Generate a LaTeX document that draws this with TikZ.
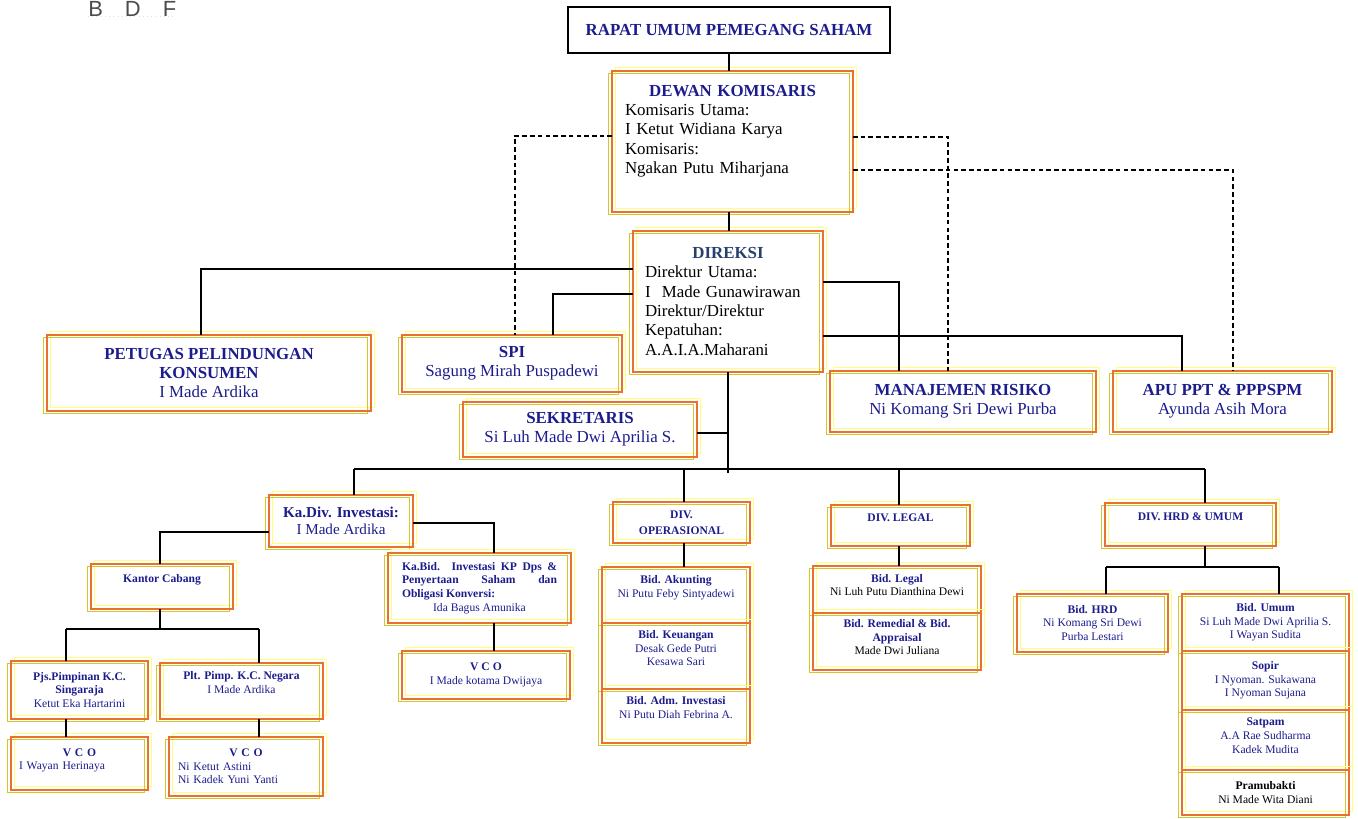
\documentclass[tikz,border=0pt]{standalone}
\usepackage{fontspec}
\setmainfont{Liberation Serif}
\newfontfamily\marksans{Liberation Sans}
\definecolor{orgnavy}{RGB}{28,28,140}
\definecolor{orgslate}{RGB}{40,64,110}
\definecolor{boxorange}{RGB}{232,112,48}
\definecolor{boxyellow}{RGB}{212,200,40}
\definecolor{boxlight}{RGB}{255,255,120}
\newcommand{\liftrule}[1]{\rule[-#1]{0pt}{0pt}}

\tikzset{
    unitbox/.style={draw=boxorange, line width=0.7pt, text=orgnavy, align=center, inner sep=2pt, outer sep=0pt,
        preaction={draw=boxlight, line width=0.9pt, transform canvas={xshift=2pt, yshift=2pt}},
        preaction={draw=boxyellow, line width=0.9pt, transform canvas={xshift=-2pt, yshift=-1.5pt}}},
    plainbox/.style={draw, line width=0.7pt, text=orgnavy, align=center, outer sep=0pt},
    sz/.style 2 args={minimum width=#1*0.02cm, minimum height=#2*0.02cm},
    lvlA/.style={font=\fontsize{9.6}{11}\selectfont},
    lvlB/.style={font=\fontsize{8.6}{9.8}\selectfont},
    lvlC/.style={font=\fontsize{6.6}{7.8}\selectfont},
    lift/.style={execute at end node=\liftrule{#1}},
    link/.style={line width=0.7pt},
    dotlink/.style={line width=0.7pt, dash pattern=on 2.6pt off 1.8pt}
}

\begin{document}
\begin{tikzpicture}[x=0.02cm, y=-0.02cm]
    \useasboundingbox (0,0) rectangle (1358,818);
    \node[anchor=base west, inner sep=0pt, text=black!70, font=\marksans\fontsize{12.5}{14}\selectfont] (mark) at (88,16) {B\quad D\quad F};
    \draw[black!12, dotted] (mark.south west) -- (mark.south east);

    % Top management
    \node[plainbox, lvlA, sz={322}{46}] (rapat) at (729,30) {\textbf{RAPAT UMUM PEMEGANG SAHAM}};
    \node[unitbox, lvlA, sz={241}{141}, text=black, text width=4.3cm, align=left, lift=14pt] (dewan) at (732.5,141.5)
        {\makebox[\hsize]{\textcolor{orgnavy}{\textbf{DEWAN KOMISARIS}}}\\Komisaris Utama:\\I Ketut Widiana Karya\\Komisaris:\\Ngakan Putu Miharjana};
    \node[unitbox, lvlA, sz={190}{141}, text=black, text width=3.32cm, align=left] (direksi) at (728,301.5)
        {\makebox[\hsize]{\textcolor{orgslate}{\textbf{DIREKSI}}}\\Direktur Utama:\\I\ \ Made Gunawirawan\\Direktur/Direktur\\Kepatuhan:\\A.A.I.A.Maharani};

    % Units under the board
    \node[unitbox, lvlA, sz={324}{76}] (petugas) at (209,373) {\textbf{PETUGAS PELINDUNGAN}\\\textbf{KONSUMEN}\\I Made Ardika};
    \node[unitbox, lvlA, sz={220}{57}] (spi) at (512,363.5) {\textbf{SPI}\\Sagung Mirah Puspadewi};
    \node[unitbox, lvlA, sz={234}{55}] (sekretaris) at (580,429.5) {\textbf{SEKRETARIS}\\Si Luh Made Dwi Aprilia S.};
    \node[unitbox, lvlA, sz={266}{61}] (risiko) at (963,401.5) {\textbf{MANAJEMEN RISIKO}\\Ni Komang Sri Dewi Purba};
    \node[unitbox, lvlA, sz={219}{61}] (apu) at (1222.5,401.5) {\textbf{APU PPT \& PPPSPM}\\Ayunda Asih Mora};

    % Divisions
    \node[unitbox, lvlB, sz={144}{52}] (kadiv) at (341,521) {\textbf{Ka.Div. Investasi:}\\I Made Ardika};
    \node[unitbox, lvlC, sz={137}{41}, font=\fontsize{6.6}{9}\selectfont] (divops) at (681.5,522.5) {\textbf{DIV.}\\\textbf{OPERASIONAL}};
    \node[unitbox, lvlC, sz={139}{41}, lift=9.5pt] (divlegal) at (900.5,525.5) {\textbf{DIV. LEGAL}};
    \node[unitbox, lvlC, sz={171}{43}, lift=9.5pt] (divhrd) at (1190.5,524.5) {\textbf{DIV. HRD \& UMUM}};

    % Investasi
    \node[unitbox, lvlC, sz={142}{45}, lift=9.5pt] (cabang) at (162,586.5) {\textbf{Kantor Cabang}};
    \node[unitbox, lvlC, sz={137}{58}] (pjs) at (79.5,690) {\textbf{Pjs.Pimpinan K.C.}\\\textbf{Singaraja}\\Ketut Eka Hartarini};
    \node[unitbox, lvlC, sz={163}{56}, lift=9.5pt] (plt) at (241.5,691) {\textbf{Plt. Pimp. K.C. Negara}\\I Made Ardika};
    \node[unitbox, lvlC, sz={137}{53}, text width=2.42cm, align=left, lift=5pt] (vcoA) at (79.5,763.5)
        {\makebox[\hsize]{\textbf{V C O}}\\I Wayan Herinaya};
    \node[unitbox, lvlC, sz={154}{59}, text width=2.72cm, align=left] (vcoB) at (246,766.5)
        {\makebox[\hsize]{\textbf{V C O}}\\Ni Ketut Astini\\Ni Kadek Yuni Yanti};
    \node[unitbox, lvlC, sz={183}{70}, text width=3.1cm, align=justify] (kabid) at (479.5,588)
        {\textbf{Ka.Bid. Investasi KP Dps \&\linebreak Penyertaan Saham dan\linebreak Obligasi Konversi:}\par
         {\centering Ida Bagus Amunika\par}};
    \node[unitbox, lvlC, sz={168}{48}] (vcoC) at (486,675) {\textbf{V C O}\\I Made kotama Dwijaya};

    % Operasional
    \node[unitbox, lvlC, sz={148}{56}, lift=9.5pt] (akunting) at (676,595) {\textbf{Bid. Akunting}\\Ni Putu Feby Sintyadewi};
    \node[unitbox, lvlC, sz={148}{66}, lift=9pt] (keuangan) at (676,656) {\textbf{Bid. Keuangan}\\Desak Gede Putri\\Kesawa Sari};
    \node[unitbox, lvlC, sz={148}{54}, lift=9.5pt] (adm) at (676,716) {\textbf{Bid. Adm. Investasi}\\Ni Putu Diah Febrina A.};

    % Legal
    \node[unitbox, lvlC, sz={168}{47}, lift=5pt] (bidlegal) at (897,589.5) {\textbf{Bid. Legal}\\\textcolor{black}{Ni Luh Putu Dianthina Dewi}};
    \node[unitbox, lvlC, sz={168}{57}, lift=5pt] (remedial) at (897,641.5) {\textbf{Bid. Remedial \& Bid.}\\\textbf{Appraisal}\\\textcolor{black}{Made Dwi Juliana}};

    % HRD & Umum
    \node[unitbox, lvlC, sz={151}{58}] (bidhrd) at (1092.5,623) {\textbf{Bid. HRD}\\Ni Komang Sri Dewi\\Purba Lestari};
    \node[unitbox, lvlC, sz={167}{57}] (umum) at (1265.5,622.5) {\textbf{Bid. Umum}\\Si Luh Made Dwi Aprilia S.\\I Wayan Sudita};
    \node[unitbox, lvlC, sz={167}{59}] (sopir) at (1265.5,680.5) {\textbf{Sopir}\\I Nyoman. Sukawana\\I Nyoman Sujana};
    \node[unitbox, lvlC, sz={167}{60}, lift=5pt] (satpam) at (1265.5,740) {\textbf{Satpam}\\A.A Rae Sudharma\\Kadek Mudita};
    \node[unitbox, lvlC, sz={167}{45}, text=black] (pramu) at (1265.5,792.5) {\textbf{Pramubakti}\\Ni Made Wita Diani};

    % Junctions
    \coordinate (busL) at (354,469);
    \coordinate (busR) at (1205,469);
    \coordinate (cabL) at (66,629);
    \coordinate (cabR) at (259,629);
    \coordinate (hrdL) at (1106,567);
    \coordinate (hrdR) at (1279,567);

    % Lines of command
    \draw[link] (rapat.south -| 729,0) -- (dewan.north -| 729,0);
    \draw[link] (direksi.north -| 729,0) -- (dewan.south -| 729,0);
    \draw[link] (direksi.west |- 0,269) -| (petugas.north -| 201,0);
    \draw[link] (direksi.west |- 0,294) -| (spi.north -| 553,0);
    \draw[link] (direksi.east |- 0,282) -| (risiko.north -| 899,0);
    \draw[link] (direksi.east |- 0,336) -| (apu.north -| 1182,0);
    \draw[link] (direksi.south) -- (direksi.south |- 0,473);
    \draw[link] (sekretaris.east |- 0,433) -- (direksi.south |- 0,433);

    % Supervision (board)
    \draw[dotlink] (dewan.west |- 0,136) -| (spi.north -| 515,0);
    \draw[dotlink] (dewan.east |- 0,137) -| (risiko.north -| 948,0);
    \draw[dotlink] (dewan.east |- 0,170) -| (apu.north -| 1233,0);

    % Division bus
    \draw[link] (busL) -- (busR);
    \draw[link] (busL) -- (busL |- kadiv.north);
    \draw[link] (divops.north -| 684,0) -- (busL -| 684,0);
    \draw[link] (divlegal.north -| 899,0) -- (busL -| 899,0);
    \draw[link] (busR) -- (busR |- divhrd.north);

    % Investasi
    \draw[link] (kadiv.west |- 0,532) -| (cabang.north -| 160,0);
    \draw[link] (kadiv.east |- 0,523) -| (kabid.north -| 494,0);
    \draw[link] (kabid.south -| 494,0) -- (vcoC.north -| 494,0);
    \draw[link] (cabang.south -| 160,0) -- (cabL -| 160,0);
    \draw[link] (cabL) -- (cabR);
    \draw[link] (cabL) -- (cabL |- pjs.north);
    \draw[link] (cabR) -- (cabR |- plt.north);
    \draw[link] (pjs.south -| cabL) -- (vcoA.north -| cabL);
    \draw[link] (plt.south -| cabR) -- (vcoB.north -| cabR);

    % Operasional, Legal, HRD
    \draw[link] (divops.south -| 684,0) -- (akunting.north -| 684,0);
    \draw[link] (divlegal.south -| 899,0) -- (bidlegal.north -| 899,0);
    \draw[link] (divhrd.south -| busR) -- (busR |- hrdL);
    \draw[link] (hrdL) -- (hrdR);
    \draw[link] (hrdL) -- (hrdL |- bidhrd.north);
    \draw[link] (hrdR) -- (hrdR |- umum.north);
\end{tikzpicture}
\end{document}
